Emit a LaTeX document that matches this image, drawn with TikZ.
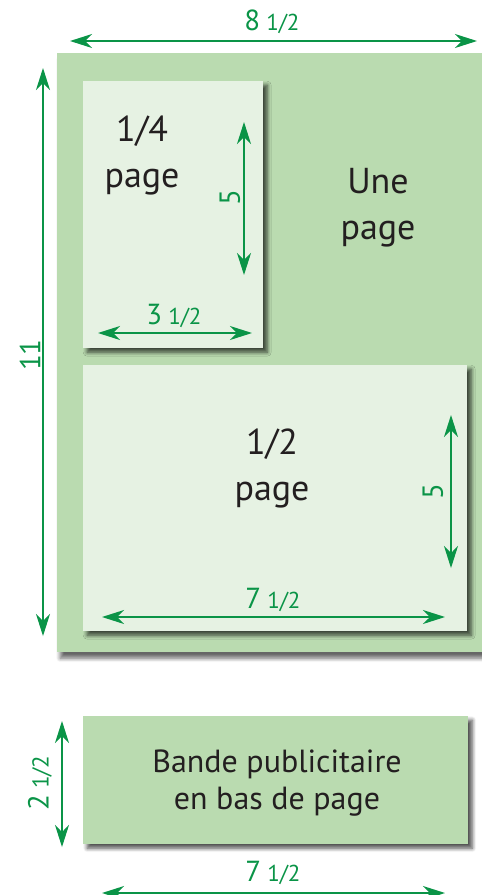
\documentclass[tikz,border=0pt]{standalone}
\usepackage{fontspec}
\setmainfont{PT Sans}
\usetikzlibrary{arrows.meta,shadows.blur}
\definecolor{dimgreen}{HTML}{0A9447}
\definecolor{pagegreen}{HTML}{BADBB0}
\definecolor{palegreen}{HTML}{E6F2E3}
\definecolor{ink}{HTML}{231F20}
\tikzset{
  x=1pt,y=-1pt,
  dimline/.style={draw=dimgreen,line width=1.4pt,{Stealth[length=22pt,width=14pt,inset=7pt]}-{Stealth[length=22pt,width=14pt,inset=7pt]}},
  dimlabel/.style={text=dimgreen,inner sep=0pt},
  bigtxt/.style={text=ink,align=center,font=\fontsize{36}{46}\selectfont,inner sep=0pt},
  boxshadow/.style={blur shadow={shadow xshift=4pt,shadow yshift=-4pt,shadow blur steps=6,shadow blur radius=4pt,shadow opacity=70}},
}
\newcommand{\dimbig}[1]{{\fontsize{29}{29}\selectfont #1}}
\newcommand{\dimfrac}[1]{{\fontsize{23}{23}\selectfont #1}}
\newcommand{\dimgap}{\hspace{6pt}}
\begin{document}
\begin{tikzpicture}
\useasboundingbox (0,0) rectangle (482,895);
% full page
\node[fill=pagegreen,minimum width=440pt,minimum height=599pt,inner sep=0pt,anchor=north west,
  blur shadow={shadow xshift=3pt,shadow yshift=-6pt,shadow blur steps=6,shadow blur radius=4pt,shadow opacity=60}] (full) at (57,53) {};
\node[fill=white,minimum width=20pt,minimum height=700pt,anchor=north west,inner sep=0pt] (edge) at (482,40) {};
% quarter
\node[fill=palegreen,boxshadow,minimum width=180pt,minimum height=267pt,inner sep=0pt,anchor=north west] (quarter) at (83,81) {};
% half
\node[fill=palegreen,boxshadow,minimum width=384pt,minimum height=266pt,inner sep=0pt,anchor=north west] (half) at (83,365) {};
% band
\node[fill=pagegreen,boxshadow,minimum width=385pt,minimum height=128pt,inner sep=0pt,anchor=north west] (band) at (83,716) {};

% texts
\node[bigtxt] (tq) at (142,155) {1/4\\page};
\node[bigtxt] (tu) at (378,208) {Une\\page};
\node[bigtxt] (th) at (272,468) {1/2\\page};
\node[bigtxt,font=\fontsize{32}{37}\selectfont] (tb) at (277,783) {Bande publicitaire\\en bas de page};

% coordinates
\coordinate (a1) at (70,41); \coordinate (a2) at (477,41);
\coordinate (b1) at (43,68); \coordinate (b2) at (43,636);
\coordinate (c1) at (244,122); \coordinate (c2) at (244,275);
\coordinate (d1) at (98,333); \coordinate (d2) at (252,333);
\coordinate (e1) at (451,415); \coordinate (e2) at (451,568);
\coordinate (f1) at (102,617); \coordinate (f2) at (445,617);
\coordinate (g1) at (62,721); \coordinate (g2) at (62,847);
\coordinate (h1) at (102,893); \coordinate (h2) at (445,893);

\draw[dimline] (a1) -- (a2);
\draw[dimline] (b1) -- (b2);
\draw[dimline] (c1) -- (c2);
\draw[dimline] (d1) -- (d2);
\draw[dimline] (e1) -- (e2);
\draw[dimline] (f1) -- (f2);
\draw[dimline] (g1) -- (g2);
\draw[dimline] (h1) -- (h2);

\node[dimlabel] (la) at (272,22) {\dimbig{8}\dimgap\dimfrac{1/2}};
\node[dimlabel,rotate=90] (lb) at (30,355) {\dimbig{11}};
\node[dimlabel,rotate=90] (lc) at (230,198) {\dimbig{5}};
\node[dimlabel] (ld) at (174,316) {\dimbig{3}\dimgap\dimfrac{1/2}};
\node[dimlabel,rotate=90] (le) at (433,492) {\dimbig{5}};
\node[dimlabel] (lf) at (273,600) {\dimbig{7}\dimgap\dimfrac{1/2}};
\node[dimlabel,rotate=90] (lg) at (40,783) {\dimbig{2}\dimgap\dimfrac{1/2}};
\node[dimlabel] (lh) at (273,873) {\dimbig{7}\dimgap\dimfrac{1/2}};
\end{tikzpicture}
\end{document}
